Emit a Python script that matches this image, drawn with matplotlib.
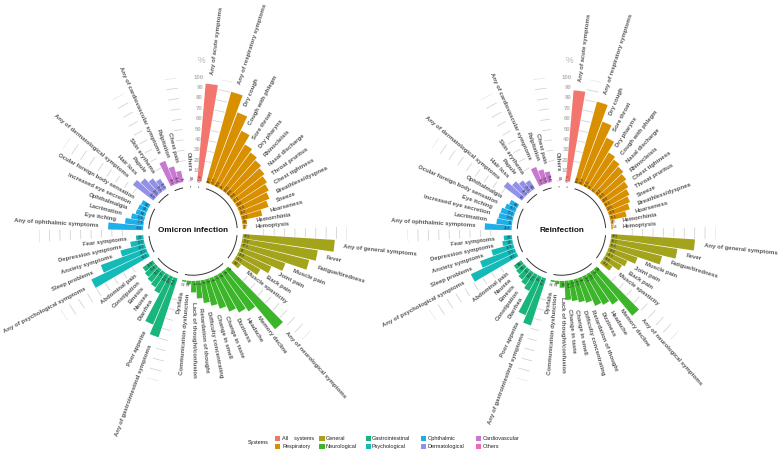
import numpy as np
import matplotlib
matplotlib.use("Agg")
import matplotlib.pyplot as plt
from matplotlib.patches import Rectangle
import matplotlib.transforms as mtransforms

plt.rcParams['font.family'] = ['Liberation Sans', 'DejaVu Sans']

# ---------------- data ----------------
systems = ['All systems', 'Respiratory', 'General', 'Neurological', 'Gastrointestinal',
           'Psychological', 'Ophthalmic', 'Dermatological', 'Cardiovascular', 'Others']
system_colors = ['#F2766E', '#D89000', '#A3A31C', '#3DB52A', '#18B67C',
                 '#14BAB8', '#1DAFEA', '#9290E8', '#C878CF', '#EE69B8']

# Omicron infection
omi_all_labels = ['Any of acute symptoms']
omi_all_values = [94.1]
omi_resp_labels = ['Any of respiratory symptoms', 'Dry cough', 'Cough with phlegm', 'Sore throat',
                   'Dry pharynx', 'Rhinocleisis', 'Nasal discharge', 'Throat pruritus',
                   'Chest tightness', 'Breathless/dyspnea', 'Sneeze', 'Hoarseness',
                   'Hemorrhinia', 'Hemoptysis']
omi_resp_values = [90.7, 73.7, 58.9, 49.0, 45.5, 42.6, 39.8, 37.1, 34.6, 31.8, 28.2, 20.2, 4.5, 2.7]
omi_gen_labels = ['Any of general symptoms', 'Fever', 'Fatigue/tiredness', 'Muscle pain',
                  'Joint pain', 'Back pain', 'Muscle spasticity']
omi_gen_values = [88.5, 73.3, 67.1, 46.0, 34.8, 26.5, 8.2]
omi_neuro_labels = ['Any of neurological symptoms', 'Memory decline', 'Headache', 'Dizziness',
                    'Change in taste', 'Change in smell', 'Difficulty concentrating',
                    'Retardation of thought', 'Lack of thought/confusion',
                    'Communication dysfunction', 'Dysfalia']
omi_neuro_values = [75.0, 46.0, 42.0, 37.0, 31.0, 26.0, 22.0, 17.0, 11.0, 3.4, 1.5]
omi_gi_labels = ['Any of gastrointestinal symptoms', 'Poor appetite', 'Diarrhea', 'Nausea',
                 'Emesis', 'Constipation', 'Abdominal pain']
omi_gi_values = [59.4, 49.8, 20.1, 17.0, 15.2, 13.4, 11.8]
omi_psy_labels = ['Any of psychological symptoms', 'Sleep problems', 'Anxiety symptoms',
                  'Depression symptoms', 'Fear symptoms']
omi_psy_values = [60.3, 46.5, 24.3, 13.2, 7.1]
omi_oph_labels = ['Any of ophthalmic symptoms', 'Eye itching', 'Lacrimation', 'Ophthalmalgia',
                  'Increased eye secretion', 'Ocular foreign body sensation']
omi_oph_values = [33.6, 17.8, 12.8, 9.6, 9.1, 8.2]
omi_derm_labels = ['Any of dermatological symptoms', 'Hair loss', 'Papule', 'Skin erythema']
omi_derm_values = [24.8, 20.5, 15.6, 11.2]
omi_cardio_labels = ['Any of cardiovascular symptoms', 'Palpitation', 'Chest pain']
omi_cardio_values = [24.5, 16.8, 11.0]
omi_oth_labels = ['Others']
omi_oth_values = [0.4]

# Reinfection
re_all_labels = ['Any of acute symptoms']
re_all_values = [87.7]
re_resp_labels = ['Any of respiratory symptoms', 'Dry cough', 'Sore throat', 'Dry pharynx',
                  'Cough with phlegm', 'Nasal discharge', 'Rhinocleisis', 'Chest tightness',
                  'Throat pruritus', 'Sneeze', 'Breathless/dyspnea', 'Hoarseness',
                  'Hemorrhinia', 'Hemoptysis']
re_resp_values = [80.9, 64.2, 51.5, 40.0, 37.0, 34.3, 31.6, 28.8, 26.1, 23.5, 20.9, 16.1, 2.5, 1.4]
re_gen_labels = ['Any of general symptoms', 'Fever', 'Fatigue/tiredness', 'Muscle pain',
                 'Joint pain', 'Back pain', 'Muscle spasticity']
re_gen_values = [80.5, 64.7, 51.6, 29.4, 21.5, 18.8, 11.6]
re_neuro_labels = ['Any of neurological symptoms', 'Memory decline', 'Headache', 'Dizziness',
                   'Retardation of thought', 'Difficulty concentrating', 'Change in smell',
                   'Change in taste', 'Lack of thought/confusion', 'Communication dysfunction',
                   'Dysfalia']
re_neuro_values = [58.0, 38.0, 33.5, 30.9, 25.0, 22.6, 20.1, 18.4, 6.5, 3.1, 1.6]
re_gi_labels = ['Any of gastrointestinal symptoms', 'Poor appetite', 'Diarrhea', 'Constipation',
                'Emesis', 'Nausea', 'Abdominal pain']
re_gi_values = [47.4, 40.0, 17.5, 14.2, 12.0, 9.8, 8.6]
re_psy_labels = ['Any of psychological symptoms', 'Sleep problems', 'Anxiety symptoms',
                 'Depression symptoms', 'Fear symptoms']
re_psy_values = [48.5, 35.5, 21.8, 9.8, 7.8]
re_oph_labels = ['Any of ophthalmic symptoms', 'Lacrimation', 'Increased eye secretion',
                 'Eye itching', 'Ocular foreign body sensation', 'Ophthalmalgia']
re_oph_values = [25.8, 15.0, 13.9, 13.2, 10.7, 8.6]
re_derm_labels = ['Any of dermatological symptoms', 'Hair loss', 'Papule', 'Skin erythema']
re_derm_values = [22.0, 16.7, 13.1, 9.6]
re_cardio_labels = ['Any of cardiovascular symptoms', 'Palpitation', 'Chest pain']
re_cardio_values = [18.2, 13.8, 10.4]
re_oth_labels = ['Others']
re_oth_values = [0.4]

tick_values = [0, 10, 20, 30, 40, 50, 60, 70, 80, 90, 100]
grid_values = [20, 30, 40, 50, 60, 70, 80, 90, 100]

omi_groups = list(zip(systems, system_colors,
                      [omi_all_labels, omi_resp_labels, omi_gen_labels, omi_neuro_labels,
                       omi_gi_labels, omi_psy_labels, omi_oph_labels, omi_derm_labels,
                       omi_cardio_labels, omi_oth_labels],
                      [omi_all_values, omi_resp_values, omi_gen_values, omi_neuro_values,
                       omi_gi_values, omi_psy_values, omi_oph_values, omi_derm_values,
                       omi_cardio_values, omi_oth_values]))
re_groups = list(zip(systems, system_colors,
                     [re_all_labels, re_resp_labels, re_gen_labels, re_neuro_labels,
                      re_gi_labels, re_psy_labels, re_oph_labels, re_derm_labels,
                      re_cardio_labels, re_oth_labels],
                     [re_all_values, re_resp_values, re_gen_values, re_neuro_values,
                      re_gi_values, re_psy_values, re_oph_values, re_derm_values,
                      re_cardio_values, re_oth_values]))

# ---------------- figure ----------------
W, H = 778, 451
fig = plt.figure(figsize=(W / 100, H / 100), dpi=100)
RMIN, RMAX = -48, 100
RPX = 154  # pixel radius of axes


def make_ax(cx, cy):
    ax = fig.add_axes([(cx - RPX) / W, (H - cy - RPX) / H, 2 * RPX / W, 2 * RPX / H],
                      projection='polar')
    ax.set_theta_zero_location('N')
    ax.set_theta_direction(-1)
    ax.set_ylim(RMIN, RMAX)
    ax.set_axis_off()
    return ax


def draw(ax, groups, title):
    n_bars = sum(len(g[3]) for g in groups)
    N = n_bars + len(groups)
    slot = 2 * np.pi / N
    off = 0.4
    idx = 1
    gaps = []
    for gi, (name, col, labels, values) in enumerate(groups):
        ids = np.arange(idx, idx + len(values))
        th = (ids + off) * slot
        ax.bar(th, values, width=0.92 * slot, bottom=0, color=col, edgecolor='none',
               zorder=2, align='center')
        tt = np.linspace(th[0] - 0.12 * slot, th[-1] + 0.12 * slot, 40)
        ax.plot(tt, np.full_like(tt, -5.5), color='#333333', lw=0.7, zorder=3,
                solid_capstyle='butt')
        for t, lab, v in zip(th, labels, values):
            deg = np.degrees(t)
            if deg < 180:
                rot, ha = 90 - deg, 'left'
            else:
                rot, ha = 270 - deg, 'right'
            ax.text(t, v + 9, lab, rotation=rot, ha=ha, va='center', rotation_mode='anchor',
                    fontsize=4.3, fontweight='bold', color='#575757', zorder=4)
            ax.text(t, 1.0, f'{v:g}', rotation=rot, ha=ha, va='center',
                    rotation_mode='anchor', fontsize=2.3, color='#222222', zorder=4)
        idx += len(values)
        if gi < len(groups) - 1:
            gaps.append(idx)
            idx += 1
    # grid segments in gaps
    for g in gaps:
        tc = (g + off) * slot
        tt = np.linspace(tc - 0.42 * slot, tc + 0.42 * slot, 12)
        for gv in grid_values:
            ax.plot(tt, np.full_like(tt, gv), color='#d0d0d0', lw=0.55, zorder=1)
    # axis tick labels in the top gap
    t_tick = off * slot
    trans = mtransforms.offset_copy(ax.transData, fig=fig, x=5, y=0, units='dots')
    for tv in tick_values:
        ax.text(t_tick, tv, str(tv), ha='right', va='center', fontsize=4.3,
                fontweight='bold', color='#b5b5b5', transform=trans, zorder=4)
    trans2 = mtransforms.offset_copy(ax.transData, fig=fig, x=2, y=0, units='dots')
    ax.text(t_tick, 116, '%', ha='center', va='center', fontsize=6.2, color='#b5b5b5',
            transform=trans2)
    ax.text(0, RMIN, title, ha='center', va='center', fontsize=5.9, fontweight='bold',
            color='#111111')


ax1 = make_ax(193, 231)
draw(ax1, omi_groups, 'Omicron infection')
ax2 = make_ax(561.5, 231)
draw(ax2, re_groups, 'Reinfection')

# ---------------- legend ----------------
def fx(x):
    return x / W


def fy(y):
    return 1 - y / H


fig.text(fx(248), fy(442.5), 'Systems', ha='left', va='center', fontsize=4.0, color='#222222')
key_x = [275, 319.3, 365.7, 420.7, 476]
txt_x = [282.3, 326, 371.7, 427.7, 482.7]
row_y = [438.6, 446.4]
legend_names = list(systems)
legend_names[0] = 'All    systems'
for k, (name, col) in enumerate(zip(legend_names, system_colors)):
    c, r = k // 2, k % 2
    fig.patches.append(Rectangle((fx(key_x[c]), fy(row_y[r] + 2.6)), 5.2 / W, 5.2 / H,
                                 transform=fig.transFigure, facecolor=col, edgecolor='none'))
    fig.text(fx(txt_x[c]), fy(row_y[r]), name, ha='left', va='center', fontsize=4.0,
             color='#222222')

fig.savefig('out.png', dpi=100)
